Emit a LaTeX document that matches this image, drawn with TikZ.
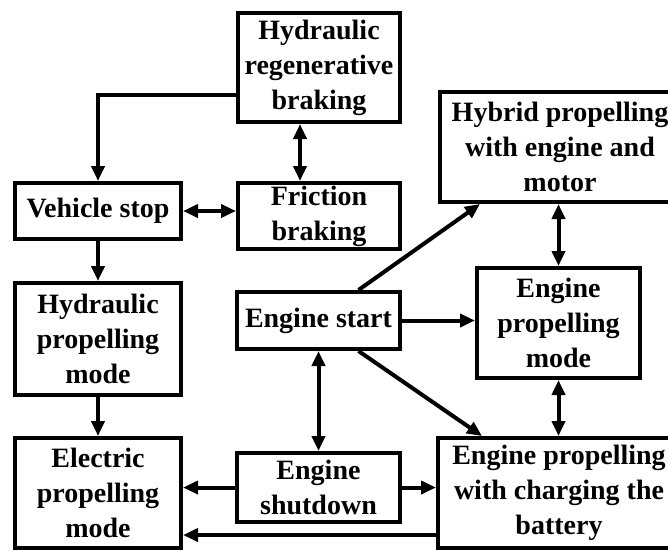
\documentclass[tikz,border=0pt]{standalone}
\usepackage{fontspec}
\setmainfont{Liberation Serif}
\usetikzlibrary{arrows.meta}
\tikzset{
  modebox/.style={draw,line width=4pt,align=center,inner sep=0pt,
    font=\bfseries\fontsize{28}{35}\selectfont},
  flow/.style={line width=4pt,-{Triangle[length=15pt,width=13pt]}},
  both/.style={line width=4pt,{Triangle[length=15pt,width=13pt]}-{Triangle[length=15pt,width=13pt]}}
}
\begin{document}
\begin{tikzpicture}[x=1pt,y=-1pt]
\useasboundingbox (0,0) rectangle (668,550);
\clip (0,0) rectangle (668,550);
% left column
\node[modebox,minimum width=166,minimum height=56] (stop) at (98,211) {Vehicle stop};
\node[modebox,minimum width=166,minimum height=112] (hprop) at (98,339) {Hydraulic\\propelling\\mode};
\node[modebox,minimum width=166,minimum height=110] (eprop) at (98,493) {Electric\\propelling\\mode};
% middle column
\node[modebox,minimum width=162,minimum height=109] (hrb) at (319,67.5) {Hydraulic\\regenerative\\braking};
\node[modebox,minimum width=162,minimum height=66] (fric) at (319,216) {Friction\\braking};
\node[modebox,minimum width=163,minimum height=57] (start) at (318.5,320.5) {Engine start};
\node[modebox,minimum width=163,minimum height=69] (shut) at (318.5,487.5) {Engine\\shutdown};
% right column
\node[modebox,minimum width=240,minimum height=110] (hybrid) at (560,147) {Hybrid propelling\\with engine and\\motor};
\node[modebox,minimum width=163,minimum height=110] (engprop) at (558.5,323) {Engine\\propelling\\mode};
\node[modebox,minimum width=242,minimum height=110] (charge) at (559,493) {Engine propelling\\with charging the\\battery};
% connectors
\draw[flow] ([yshift=-27pt]hrb.west) -| (stop.north);
\draw[both] ([xshift=-19pt]hrb.south) -- ([xshift=-19pt]fric.north);
\draw[both] (stop.east) -- (stop.east -| fric.west);
\draw[flow] (stop.south) -- (hprop.north);
\draw[flow] (hprop.south) -- (eprop.north);
\draw[both] (start.south) -- (shut.north);
\draw[flow] (shut.west) -- (shut.west -| eprop.east);
\draw[flow] ([yshift=-42pt]charge.west) -- ([yshift=-42pt]charge.west -| eprop.east);
\draw[flow] ([xshift=40pt]start.north) -- ([xshift=-80pt]hybrid.south);
\draw[flow] (start.east) -- (start.east -| engprop.west);
\draw[flow] ([xshift=40pt]start.south) -- ([xshift=-77pt]charge.north);
\draw[both] (engprop.north) -- (engprop.north |- hybrid.south);
\draw[both] (engprop.south) -- (engprop.south |- charge.north);
\draw[flow] (shut.east) -- (shut.east -| charge.west);
\end{tikzpicture}
\end{document}
